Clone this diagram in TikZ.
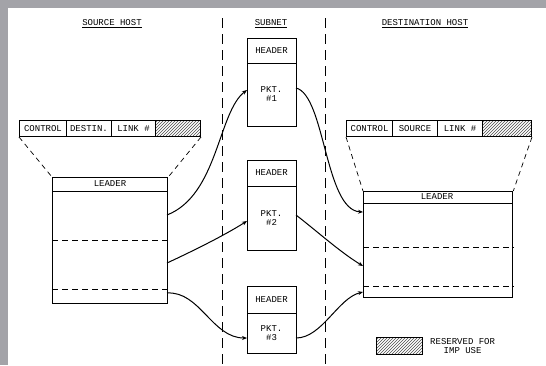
\documentclass[tikz,border=0pt]{standalone}
\usepackage{fontspec}
\setmonofont{Liberation Mono}
\usetikzlibrary{patterns,arrows.meta}
\definecolor{frame}{RGB}{163,163,168}
\begin{document}
\begin{tikzpicture}[x=1pt,y=-1pt,
  txt/.style={font=\ttfamily\fontsize{9}{9.5}\selectfont, inner sep=0pt, align=center},
  cell/.style={draw, line width=1pt, minimum height=16pt, inner sep=0pt, anchor=north west, font=\ttfamily\fontsize{9}{9}\selectfont},
  hatch/.style={cell, pattern=north east lines, pattern color=black!70},
  box/.style={draw, line width=1.3pt, inner sep=0pt, anchor=north west},
  trap/.style={dash pattern=on 5pt off 4pt, line width=0.7pt},
  sep/.style={dash pattern=on 10pt off 6pt, line width=0.8pt},
  inner/.style={dash pattern=on 6pt off 4pt, line width=0.7pt},
  conn/.style={line width=1pt, -{Stealth[length=5pt,width=4pt]}}]
\useasboundingbox (0,0) rectangle (546,365);
\fill[frame] (0,0) rectangle (546,365);
\fill[white] (8,8) rectangle (546,365);

% titles
\node[txt] (t1) at (112,24) {\underline{SOURCE HOST}};
\node[txt] (t2) at (271,24) {\underline{SUBNET}};
\node[txt] (t3) at (425,24) {\underline{DESTINATION HOST}};

% separators
\coordinate (d1a) at (222,18); \coordinate (d1b) at (222,365);
\coordinate (d2a) at (325,18); \coordinate (d2b) at (325,365);
\draw[sep] (d1a) -- (d1b);
\draw[sep] (d2a) -- (d2b);

% source header fields
\node[cell, minimum width=47pt] (lc) at (19,120) {CONTROL};
\node[cell, minimum width=45pt] (ld) at (66,120) {DESTIN.};
\node[cell, minimum width=44pt] (ll) at (111,120) {LINK \#};
\node[hatch, minimum width=45pt] (lh) at (155,120) {};

% source leader box
\node[box, minimum width=115pt, minimum height=126pt] (src) at (52,177) {};
\draw[line width=1pt] ([yshift=-14pt]src.north west) -- ([yshift=-14pt]src.north east);
\node[txt] (srcl) at (110,184) {LEADER};
\draw[inner] ([yshift=-63pt]src.north west) -- ([yshift=-63pt]src.north east);
\draw[inner] ([yshift=-112pt]src.north west) -- ([yshift=-112pt]src.north east);
\draw[trap] (lc.south west) -- (src.north west);
\draw[trap] (lh.south east) -- (src.north east);

% destination header fields
\node[cell, minimum width=46pt] (rc) at (346,120) {CONTROL};
\node[cell, minimum width=45pt] (rs) at (392,120) {SOURCE};
\node[cell, minimum width=45pt] (rl) at (437,120) {LINK \#};
\node[hatch, minimum width=49pt] (rh) at (482,120) {};

% destination leader box
\node[box, minimum width=149pt, minimum height=106pt] (dst) at (363,191) {};
\draw[line width=1pt] ([yshift=-12pt]dst.north west) -- ([yshift=-12pt]dst.north east);
\node[txt] (dstl) at (437,197) {LEADER};
\draw[inner] ([yshift=-56pt]dst.north west) -- ([yshift=-56pt]dst.north east);
\draw[inner] ([yshift=-95pt]dst.north west) -- ([yshift=-95pt]dst.north east);
\draw[trap] (rc.south west) -- (dst.north west);
\draw[trap] (rh.south east) -- (dst.north east);

% packets
\node[box, minimum width=49pt, minimum height=88pt] (pk1) at (247,38) {};
\draw[line width=1pt] ([yshift=-25pt]pk1.north west) -- ([yshift=-25pt]pk1.north east);
\node[txt] (h1) at (271.5,50.5) {HEADER};
\node[txt] (p1) at (271.5,94) {PKT.\\\#1};

\node[box, minimum width=49pt, minimum height=90pt] (pk2) at (247,160) {};
\draw[line width=1pt] ([yshift=-26pt]pk2.north west) -- ([yshift=-26pt]pk2.north east);
\node[txt] (h2) at (271.5,173) {HEADER};
\node[txt] (p2) at (271.5,218) {PKT.\\\#2};

\node[box, minimum width=49pt, minimum height=67pt] (pk3) at (247,286) {};
\draw[line width=1pt] ([yshift=-27pt]pk3.north west) -- ([yshift=-27pt]pk3.north east);
\node[txt] (h3) at (271.5,299.5) {HEADER};
\node[txt] (p3) at (271.5,333) {PKT.\\\#3};

% connector end points
\coordinate (s1) at (167,215);
\coordinate (s2) at (167,263);
\coordinate (s3) at (167,293);
\coordinate (a1) at (247,90);
\coordinate (a2) at (247,221);
\coordinate (a3) at (247,338);
\coordinate (b1) at (296,88);
\coordinate (b2) at (296,215);
\coordinate (b3) at (296,338);
\coordinate (e1) at (363,212);
\coordinate (e2) at (363,266);
\coordinate (e3) at (363,292);

\draw[conn] (s1) .. controls (218,195) and (218,112) .. (a1);
\draw[conn] (s2) .. controls (195,250) and (225,235) .. (a2);
\draw[conn] (s3) .. controls (200,291) and (212,338) .. (a3);
\draw[conn] (b1) .. controls (325,95) and (325,210) .. (e1);
\draw[conn] (b2) .. controls (318,232) and (340,252) .. (e2);
\draw[conn] (b3) .. controls (322,338) and (338,298) .. (e3);

% legend
\node[hatch, minimum width=46pt, minimum height=17pt] (lg) at (376,337) {};
\node[txt, anchor=west] (lgt) at (430,346) {RESERVED FOR\\IMP USE};
\end{tikzpicture}
\end{document}
